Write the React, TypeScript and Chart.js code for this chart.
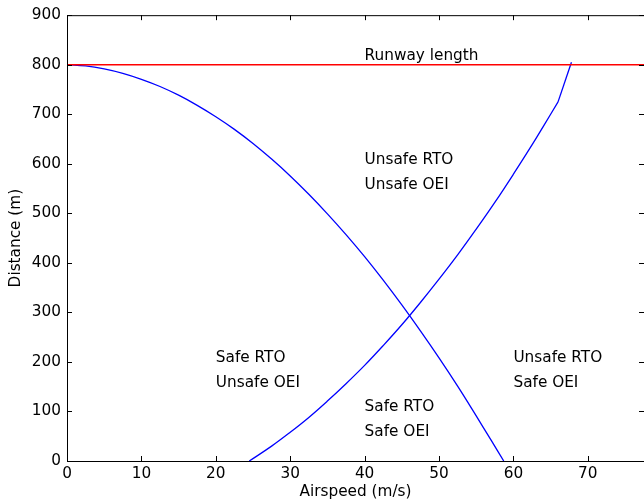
import React, { useEffect, useRef } from "react";
import { Chart, registerables } from "chart.js";

Chart.register(...registerables);

// ---- data ----
const runwayLength = 800;
const xAxisMax = 77.55;
const yAxisMax = 900;

const decelSpeed = [0, 2.5, 5, 7.5, 10, 12.5, 15, 17.5, 20, 22.5, 25, 27.5, 30, 32.5, 35, 37.5, 40, 42.5, 45, 47.5, 50, 52.5, 55, 57, 58.7];
const decelDist = [800, 797.5, 791.5, 782.5, 770.5, 756, 738.5, 718, 695, 669.5, 641, 609.5, 575.5, 538.5, 499, 457, 412.5, 365, 315, 262.5, 208, 151, 91, 42, 0];

const accelSpeed = [24.5, 27.5, 30, 32.5, 35, 37.5, 40, 42.5, 45, 47.5, 50, 52.5, 55, 57.5, 60, 62.5, 64, 66];
const accelDist = [0, 30, 58, 88, 121, 156, 193, 233, 275, 320, 367, 416, 468, 522, 579, 638, 675, 725];

const accelTailSpeed = [66, 67.8];
const accelTailDist = [725, 805];

const xTicks = [0, 10, 20, 30, 40, 50, 60, 70];
const yTicks = [0, 100, 200, 300, 400, 500, 600, 700, 800, 900];

const annotText = [
  "Runway length",
  "Unsafe RTO",
  "Unsafe OEI",
  "Safe RTO",
  "Unsafe OEI",
  "Safe RTO",
  "Safe OEI",
  "Unsafe RTO",
  "Safe OEI",
];
const annotX = [40, 40, 40, 20, 20, 40, 40, 60, 60];
const annotY = [810, 600, 550, 200, 150, 100, 50, 200, 150];

const FONT = "'DejaVu Sans', sans-serif";
const FS = 15.3;

const toPts = (xs: number[], ys: number[]) => xs.map((x, i) => ({ x, y: ys[i] }));

const framePlugin = {
  id: "frame",
  afterDraw(chart: any) {
    const { ctx, chartArea } = chart;
    const { left, right, top, bottom } = chartArea;
    const xs = chart.scales.x;
    const ys = chart.scales.y;
    ctx.save();
    // annotations
    ctx.fillStyle = "#000";
    ctx.font = `${FS}px ${FONT}`;
    ctx.textAlign = "left";
    ctx.textBaseline = "alphabetic";
    annotText.forEach((t, i) => {
      ctx.fillText(t, xs.getPixelForValue(annotX[i]), ys.getPixelForValue(annotY[i]));
    });
    // frame
    ctx.strokeStyle = "#000";
    ctx.lineWidth = 1;
    ctx.beginPath();
    ctx.rect(left + 0.5, top + 0.5, right - left, bottom - top);
    ctx.stroke();
    // inward ticks
    const L = 5;
    ctx.beginPath();
    xTicks.forEach((v) => {
      const px = Math.round(xs.getPixelForValue(v)) + 0.5;
      ctx.moveTo(px, bottom);
      ctx.lineTo(px, bottom - L);
      ctx.moveTo(px, top);
      ctx.lineTo(px, top + L);
    });
    yTicks.forEach((v) => {
      const py = Math.round(ys.getPixelForValue(v)) + 0.5;
      ctx.moveTo(left, py);
      ctx.lineTo(left + L, py);
      ctx.moveTo(right, py);
      ctx.lineTo(right - L, py);
    });
    ctx.stroke();
    ctx.restore();
  },
};

export default function App() {
  const ref = useRef<HTMLCanvasElement | null>(null);
  useEffect(() => {
    if (!ref.current) return;
    const chart = new Chart(ref.current, {
      type: "scatter",
      data: {
        datasets: [
          {
            data: toPts([0, xAxisMax], [runwayLength, runwayLength]),
            borderColor: "#ff0000",
            borderWidth: 1.4,
            showLine: true,
            pointRadius: 0,
          },
          {
            data: toPts(decelSpeed, decelDist),
            borderColor: "#0000ff",
            borderWidth: 1.3,
            showLine: true,
            pointRadius: 0,
            tension: 0.4,
          },
          {
            data: toPts(accelSpeed, accelDist),
            borderColor: "#0000ff",
            borderWidth: 1.3,
            showLine: true,
            pointRadius: 0,
            tension: 0.4,
          },
          {
            data: toPts(accelTailSpeed, accelTailDist),
            borderColor: "#0000ff",
            borderWidth: 1.3,
            showLine: true,
            pointRadius: 0,
          },
        ],
      },
      options: {
        responsive: false,
        animation: false,
        devicePixelRatio: 1,
        layout: { padding: { top: 13, right: 0, left: 0, bottom: 0 } },
        plugins: { legend: { display: false }, tooltip: { enabled: false } },
        scales: {
          x: {
            type: "linear",
            min: 0,
            max: xAxisMax,
            afterFit: (s: any) => {
              s.height = 43;
            },
            afterBuildTicks: (s: any) => {
              s.ticks = xTicks.map((v) => ({ value: v }));
            },
            grid: { display: false, drawTicks: false },
            border: { display: false },
            ticks: {
              padding: 4,
              color: "#000",
              font: { family: FONT, size: FS },
              maxRotation: 0,
              autoSkip: false,
            },
            title: {
              display: true,
              text: "Airspeed (m/s)",
              color: "#000",
              font: { family: FONT, size: FS },
              padding: { top: 0, bottom: 2.5 },
            },
          },
          y: {
            type: "linear",
            min: 0,
            max: yAxisMax,
            afterFit: (s: any) => {
              s.width = 67;
            },
            afterBuildTicks: (s: any) => {
              s.ticks = yTicks.map((v) => ({ value: v }));
            },
            grid: { display: false, drawTicks: false },
            border: { display: false },
            ticks: {
              padding: 6,
              color: "#000",
              font: { family: FONT, size: FS },
              autoSkip: false,
            },
            title: {
              display: true,
              text: "Distance (m)",
              color: "#000",
              font: { family: FONT, size: FS },
              padding: { top: 6.5, bottom: 0 },
            },
          },
        },
      },
      plugins: [framePlugin],
    } as any);
    return () => chart.destroy();
  }, []);
  return (
    <div style={{ position: "absolute", left: 0, top: 0, width: 644, height: 504, background: "#fff" }}>
      <canvas ref={ref} width={644} height={504} style={{ display: "block" }} />
    </div>
  );
}
